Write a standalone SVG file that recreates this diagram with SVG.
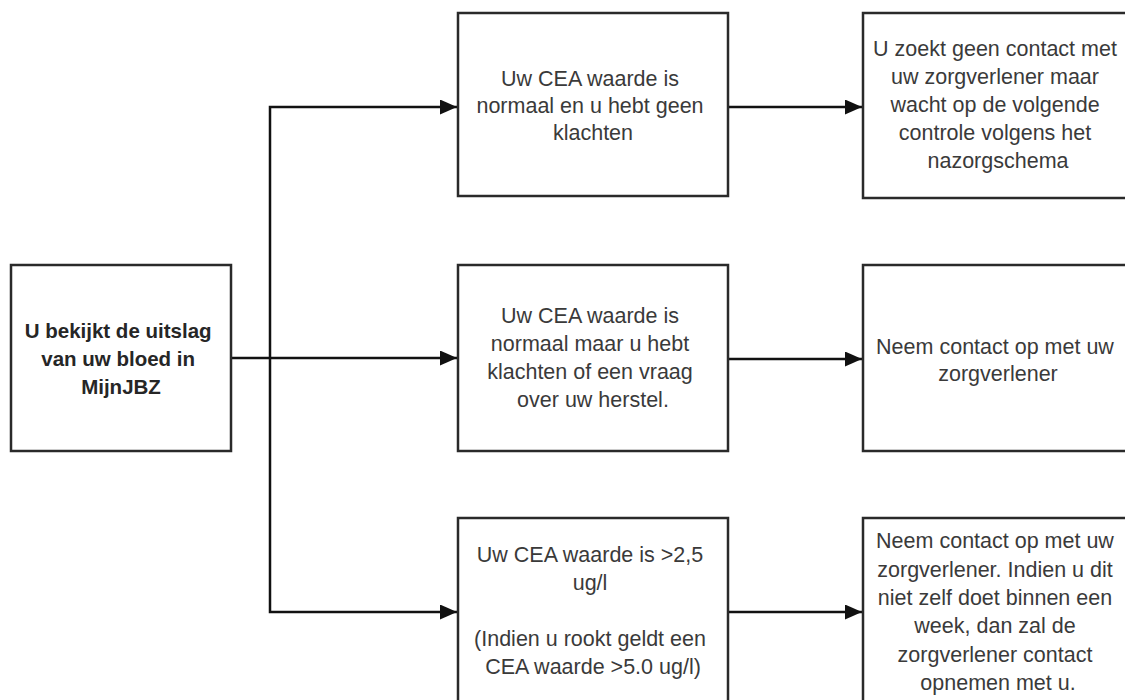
<svg xmlns="http://www.w3.org/2000/svg" width="1125" height="700" viewBox="0 0 1125 700">
  <style>
    .box { fill: #ffffff; stroke: #2a2a2a; stroke-width: 2.5; }
    .t { font-family: "Liberation Sans", Arial, sans-serif; font-size: 21.5px; fill: #3a3a3a; text-anchor: middle; }
    .b { font-weight: bold; font-size: 20.5px; fill: #262626; }
    .c { fill: none; stroke: #111111; stroke-width: 2.5; }
  </style>
  <defs>
    <marker id="arrow" markerUnits="userSpaceOnUse" markerWidth="17" markerHeight="15" refX="17" refY="7.5" orient="auto">
      <path d="M0,0 L17,7.5 L0,15 z" fill="#111111"/>
    </marker>
  </defs>
  <rect width="1125" height="700" fill="#ffffff"/>

  <g id="connectors">
    <path class="c" d="M231,358 H457" marker-end="url(#arrow)"/>
    <path class="c" d="M270,358 V107 H457" marker-end="url(#arrow)"/>
    <path class="c" d="M270,358 V612 H457" marker-end="url(#arrow)"/>
    <path class="c" d="M728,107 H862" marker-end="url(#arrow)"/>
    <path class="c" d="M728,359 H862" marker-end="url(#arrow)"/>
    <path class="c" d="M728,612 H862" marker-end="url(#arrow)"/>
  </g>

  <g id="start">
    <rect class="box" x="11" y="265" width="220" height="186"/>
    <text class="t b">
      <tspan x="121" y="338">U bekijkt de uitslag</tspan>
      <tspan x="121" y="366">van uw bloed in</tspan>
      <tspan x="121" y="394">MijnJBZ</tspan>
    </text>
  </g>

  <g id="normal-no-complaints">
    <rect class="box" x="458" y="13" width="270" height="183"/>
    <text class="t">
      <tspan x="593" y="86">Uw CEA waarde is</tspan>
      <tspan x="593" y="113">normaal en u hebt geen</tspan>
      <tspan x="593" y="140">klachten</tspan>
    </text>
  </g>

  <g id="normal-complaints">
    <rect class="box" x="458" y="265" width="270" height="186"/>
    <text class="t">
      <tspan x="593" y="323">Uw CEA waarde is</tspan>
      <tspan x="593" y="351">normaal maar u hebt</tspan>
      <tspan x="593" y="379">klachten of een vraag</tspan>
      <tspan x="593" y="407">over uw herstel.</tspan>
    </text>
  </g>

  <g id="elevated">
    <rect class="box" x="458" y="518" width="270" height="200"/>
    <text class="t">
      <tspan x="593" y="562">Uw CEA waarde is &gt;2,5</tspan>
      <tspan x="593" y="590">ug/l</tspan>
      <tspan x="593" y="646">(Indien u rookt geldt een</tspan>
      <tspan x="593" y="674">CEA waarde &gt;5.0 ug/l)</tspan>
    </text>
  </g>

  <g id="wait">
    <rect class="box" x="863" y="13" width="275" height="185"/>
    <text class="t">
      <tspan x="998" y="56">U zoekt geen contact met</tspan>
      <tspan x="998" y="84">uw zorgverlener maar</tspan>
      <tspan x="998" y="112">wacht op de volgende</tspan>
      <tspan x="998" y="140">controle volgens het</tspan>
      <tspan x="998" y="168">nazorgschema</tspan>
    </text>
  </g>

  <g id="contact">
    <rect class="box" x="863" y="265" width="275" height="186"/>
    <text class="t">
      <tspan x="998" y="354">Neem contact op met uw</tspan>
      <tspan x="998" y="381">zorgverlener</tspan>
    </text>
  </g>

  <g id="contact-week">
    <rect class="box" x="863" y="518" width="275" height="200"/>
    <text class="t">
      <tspan x="998" y="548">Neem contact op met uw</tspan>
      <tspan x="998" y="576.5">zorgverlener. Indien u dit</tspan>
      <tspan x="998" y="605">niet zelf doet binnen een</tspan>
      <tspan x="998" y="633">week, dan zal de</tspan>
      <tspan x="998" y="661.5">zorgverlener contact</tspan>
      <tspan x="998" y="690">opnemen met u.</tspan>
    </text>
  </g>
</svg>
